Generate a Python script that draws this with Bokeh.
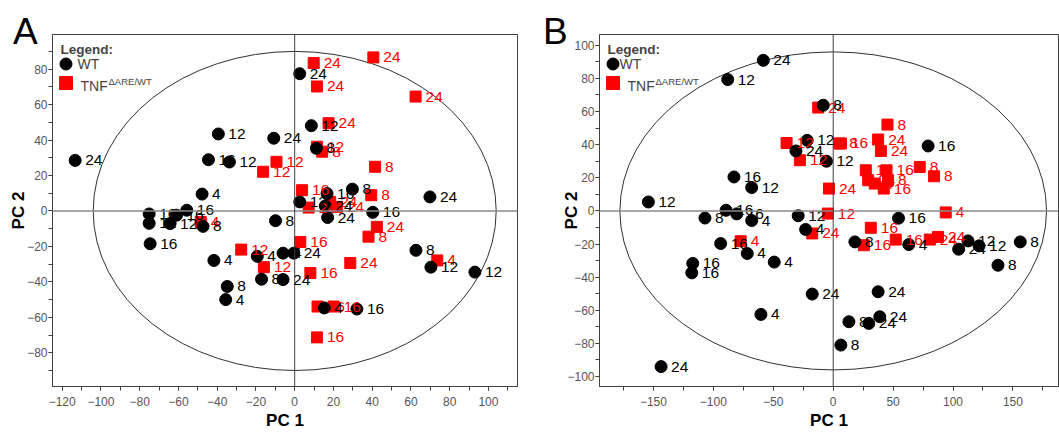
from bokeh.plotting import figure
from bokeh.models import Span, Label, SingleIntervalTicker, Range1d, GridBox, Div
from bokeh.embed import file_html
from bokeh.resources import INLINE
from bokeh.core.properties import value

FONT = "Liberation Sans"

# ---------------- Panel A data ----------------
a_wt_x = [-113.3, -39.4, -44.5, -33.7, -47.8, -75.1, -75.1, -64.3, -61.0, -55.7, -47.3, -41.7, -34.8, -35.6,
          -74.6, -19.3, -17.1, -6.0, -6.0, -0.5, -9.9, -10.8, 2.6, 8.6, 11.2, 2.6, 16.7, 29.8, 15.8, 17.0,
          40.3, 69.8, 62.6, 70.3, 93.0, 15.3, 32.1]
a_wt_y = [28.5, 43.4, 28.9, 27.6, 9.5, -1.7, -7.0, -7.1, -2.4, 0.4, -8.7, -27.9, -42.6, -50.0,
          -18.5, -25.6, -38.5, -38.7, -23.8, -23.8, -5.5, 41.0, 77.4, 48.1, 35.3, 5.1, 9.8, 12.3, 2.8, -3.7,
          -0.8, 7.9, -22.2, -31.7, -34.5, -54.7, -55.3]
a_wt_lab = ["24", "12", "16", "12", "4", "16", "12", "12", "16", "16", "8", "4", "8", "4",
            "16", "4", "8", "24", "4", "24", "8", "24", "24", "12", "8", "12", "16", "8", "24", "24",
            "16", "24", "8", "12", "12", "4", "16"]

a_tnf_x = [-48.5, -27.6, -15.9, -16.3, -9.4, 9.8, 11.5, 40.6, 62.4, 17.5, 11.5, 14.2, 41.5, 39.5,
           3.8, 7.2, 18.3, 21.8, 42.4, 38.1, 2.9, 8.1, 28.7, 11.8, 20.1, 11.5, 73.6]
a_tnf_y = [-6.2, -21.8, -31.7, 22.1, 27.7, 83.4, 70.2, 86.6, 64.5, 49.5, 36.2, 33.4, 24.9, 8.9,
           11.7, 1.9, 5.1, 2.3, -9.0, -14.5, -17.5, -35.0, -29.4, -53.9, -53.9, -71.3, -27.9]
a_tnf_lab = ["4", "12", "12", "12", "12", "24", "24", "24", "24", "24", "12", "8", "8", "8",
             "16", "24", "24", "24", "24", "8", "16", "16", "24", "16", "16", "16", "4"]

a_ellipse = [104, 90]          # semi-axes (PC1, PC2)
a_xrange = [-125, 115]
a_yrange = [-99, 99.5]

# ---------------- Panel B data ----------------
b_wt_x = [-58.3, -88.0, -31.1, -82.8, -68.0, -154.2, -89.4, -80.5, -107.0, -68.0, -93.9, -71.7, -49.2,
          -117.2, -118.0, -60.3, -143.6, -29.2, -8.3, -21.7, -5.6, 79.2, 54.5, -23.0, 18.1, 63.1, 112.5,
          104.7, 121.7, 156.1, 137.5, -17.5, 37.5, 38.9, 29.7, 13.1, 6.4]
b_wt_y = [90.9, 79.3, 36.2, 20.5, 14.1, 5.4, 0.4, -1.8, -4.3, -5.8, -19.7, -25.7, -30.9,
          -31.7, -37.4, -62.5, -94.0, -2.9, 63.8, 42.6, 30.0, 39.2, -4.4, -11.2, -18.7, -20.3, -18.1,
          -23.1, -21.1, -18.7, -32.8, -50.2, -48.8, -63.9, -67.9, -66.9, -81.0]
b_wt_lab = ["24", "12", "24", "16", "12", "12", "16", "16", "8", "4", "16", "4", "4",
            "16", "16", "4", "24", "12", "8", "12", "12", "16", "16", "4", "8", "4", "12",
            "24", "12", "8", "8", "24", "24", "24", "24", "8", "8"]

b_tnf_x = [-77.2, -12.5, -38.9, -27.8, 5.0, 6.5, 45.3, 37.5, 39.8, -3.5, 27.2, 29.2, 34.7, 42.2,
           44.5, 45.8, 72.2, 84.2, 93.9, -4.5, -17.5, 31.4, 25.6, 52.2, 80.6, 87.5]
b_tnf_y = [-18.3, 62.4, 41.0, 30.6, 40.7, 40.7, 52.1, 43.1, 36.2, 13.5, 24.5, 18.5, 16.5, 13.5,
           24.5, 18.5, 26.5, 20.9, -0.9, -1.6, -13.6, -10.2, -20.7, -17.3, -17.3, -15.7]
b_tnf_lab = ["4", "24", "12", "12", "8", "16", "8", "24", "24", "24", "12", "24", "4", "16",
             "16", "8", "8", "8", "4", "12", "24", "16", "16", "16", "24", "24"]

b_ellipse = [178, 96]
b_xrange = [-195, 188]
b_yrange = [-106, 106.5]

x_label = "PC 1"
y_label = "PC 2"
legend_title = "Legend:"
series_names = ["WT", "TNF", "\u0394ARE/WT"]
panel_letters = ["A", "B"]

H = 432
TOP, BOTTOM = 34, 46
FH = H - TOP - BOTTOM


def panel(width, left, right, xr, yr, xint, wt_x, wt_y, wt_lab, tnf_x, tnf_y, tnf_lab, ell,
          ylab_standoff, wt_text_x):
    fw = width - left - right
    p = figure(width=width, height=H, x_range=Range1d(*xr), y_range=Range1d(*yr),
               output_backend="svg", toolbar_location=None, title=None,
               min_border_left=left, min_border_right=right,
               min_border_top=TOP, min_border_bottom=BOTTOM)
    p.grid.visible = False
    p.outline_line_color = "#404040"
    p.outline_line_width = 1
    p.background_fill_color = "white"
    p.border_fill_color = "white"

    p.xaxis.ticker = SingleIntervalTicker(interval=xint, num_minor_ticks=2)
    p.yaxis.ticker = SingleIntervalTicker(interval=20, num_minor_ticks=2)
    for ax in (p.xaxis[0], p.yaxis[0]):
        ax.major_tick_in = 0
        ax.minor_tick_in = 0
        ax.major_tick_out = 4
        ax.minor_tick_out = 4
        ax.axis_line_color = "#404040"
        ax.major_tick_line_color = "#404040"
        ax.minor_tick_line_color = "#404040"
        ax.major_label_text_font = FONT
        ax.major_label_text_font_size = "12px"
        ax.major_label_text_color = "#555555"
        ax.axis_label_text_font = FONT
        ax.axis_label_text_font_style = "bold"
        ax.axis_label_text_font_size = "17px"
        ax.axis_label_text_color = "black"
    p.xaxis.axis_label = x_label
    p.yaxis.axis_label = y_label
    p.xaxis.major_label_standoff = 6
    p.xaxis.axis_label_standoff = 2
    p.yaxis.major_label_standoff = 1
    p.yaxis.axis_label_standoff = ylab_standoff

    p.add_layout(Span(location=0, dimension="width", line_color="#8a8a8a", line_width=1.5))
    p.add_layout(Span(location=0, dimension="height", line_color="#404040", line_width=1))

    p.ellipse(x=[0], y=[0], width=[2 * ell[0]], height=[2 * ell[1]],
              fill_color=None, line_color="#303030", line_width=1)

    p.scatter(tnf_x, tnf_y, marker="square", size=11, color="#ff0000")
    p.scatter(wt_x, wt_y, marker="circle", size=12, color="black")
    p.text(tnf_x, tnf_y, text=tnf_lab, x_offset=10, text_baseline="middle", text_align="left",
           text_font=value(FONT), text_font_size="15.5px", text_color="#ff0000")
    p.text(wt_x, wt_y, text=wt_lab, x_offset=10, text_baseline="middle", text_align="left",
           text_font=value(FONT), text_font_size="15.5px", text_color="black")

    # legend (screen positions inside frame)
    def dx(sx):
        return xr[0] + sx / fw * (xr[1] - xr[0])

    def dy(sy):
        return yr[0] + sy / FH * (yr[1] - yr[0])

    p.add_layout(Label(x=8, y=FH - 15, x_units="screen", y_units="screen", text=legend_title,
                       text_font=FONT, text_font_size="13.5px", text_font_style="bold",
                       text_baseline="middle"))
    p.scatter([dx(13.5)], [dy(FH - 29.5)], marker="circle", size=12, color="black")
    p.add_layout(Label(x=wt_text_x, y=FH - 29.5, x_units="screen", y_units="screen",
                       text=series_names[0], text_font=FONT, text_font_size="14px",
                       text_baseline="middle"))
    p.scatter([dx(13.5)], [dy(FH - 48.5)], marker="square", size=13, color="#ff0000")
    p.add_layout(Label(x=28, y=FH - 51, x_units="screen", y_units="screen",
                       text=series_names[1], text_font=FONT, text_font_size="14px",
                       text_baseline="middle"))
    p.add_layout(Label(x=56, y=FH - 47, x_units="screen", y_units="screen",
                       text=series_names[2], text_font=FONT, text_font_size="9.5px",
                       text_baseline="middle"))
    return p


def letter_div(letter, pad_left):
    html = ('<div style="font-family:\'Liberation Sans\',Arial,sans-serif;font-size:37px;'
            'line-height:37px;padding-left:%dpx;padding-top:13px;color:#000;">%s</div>'
            % (pad_left, letter))
    return Div(text=html, width=60, height=56, margin=0)


pA = panel(530, 52, 13, a_xrange, a_yrange, 20, a_wt_x, a_wt_y, a_wt_lab,
           a_tnf_x, a_tnf_y, a_tnf_lab, a_ellipse, -4, 25)
pB = panel(529, 69, 1, b_xrange, b_yrange, 50, b_wt_x, b_wt_y, b_wt_lab,
           b_tnf_x, b_tnf_y, b_tnf_lab, b_ellipse, -17, 20)

layout = GridBox(children=[(pA, 0, 0), (pB, 0, 1),
                           (letter_div(panel_letters[0], 13), 0, 0),
                           (letter_div(panel_letters[1], 13), 0, 1)])
open("out.html", "w").write(file_html(layout, INLINE))
